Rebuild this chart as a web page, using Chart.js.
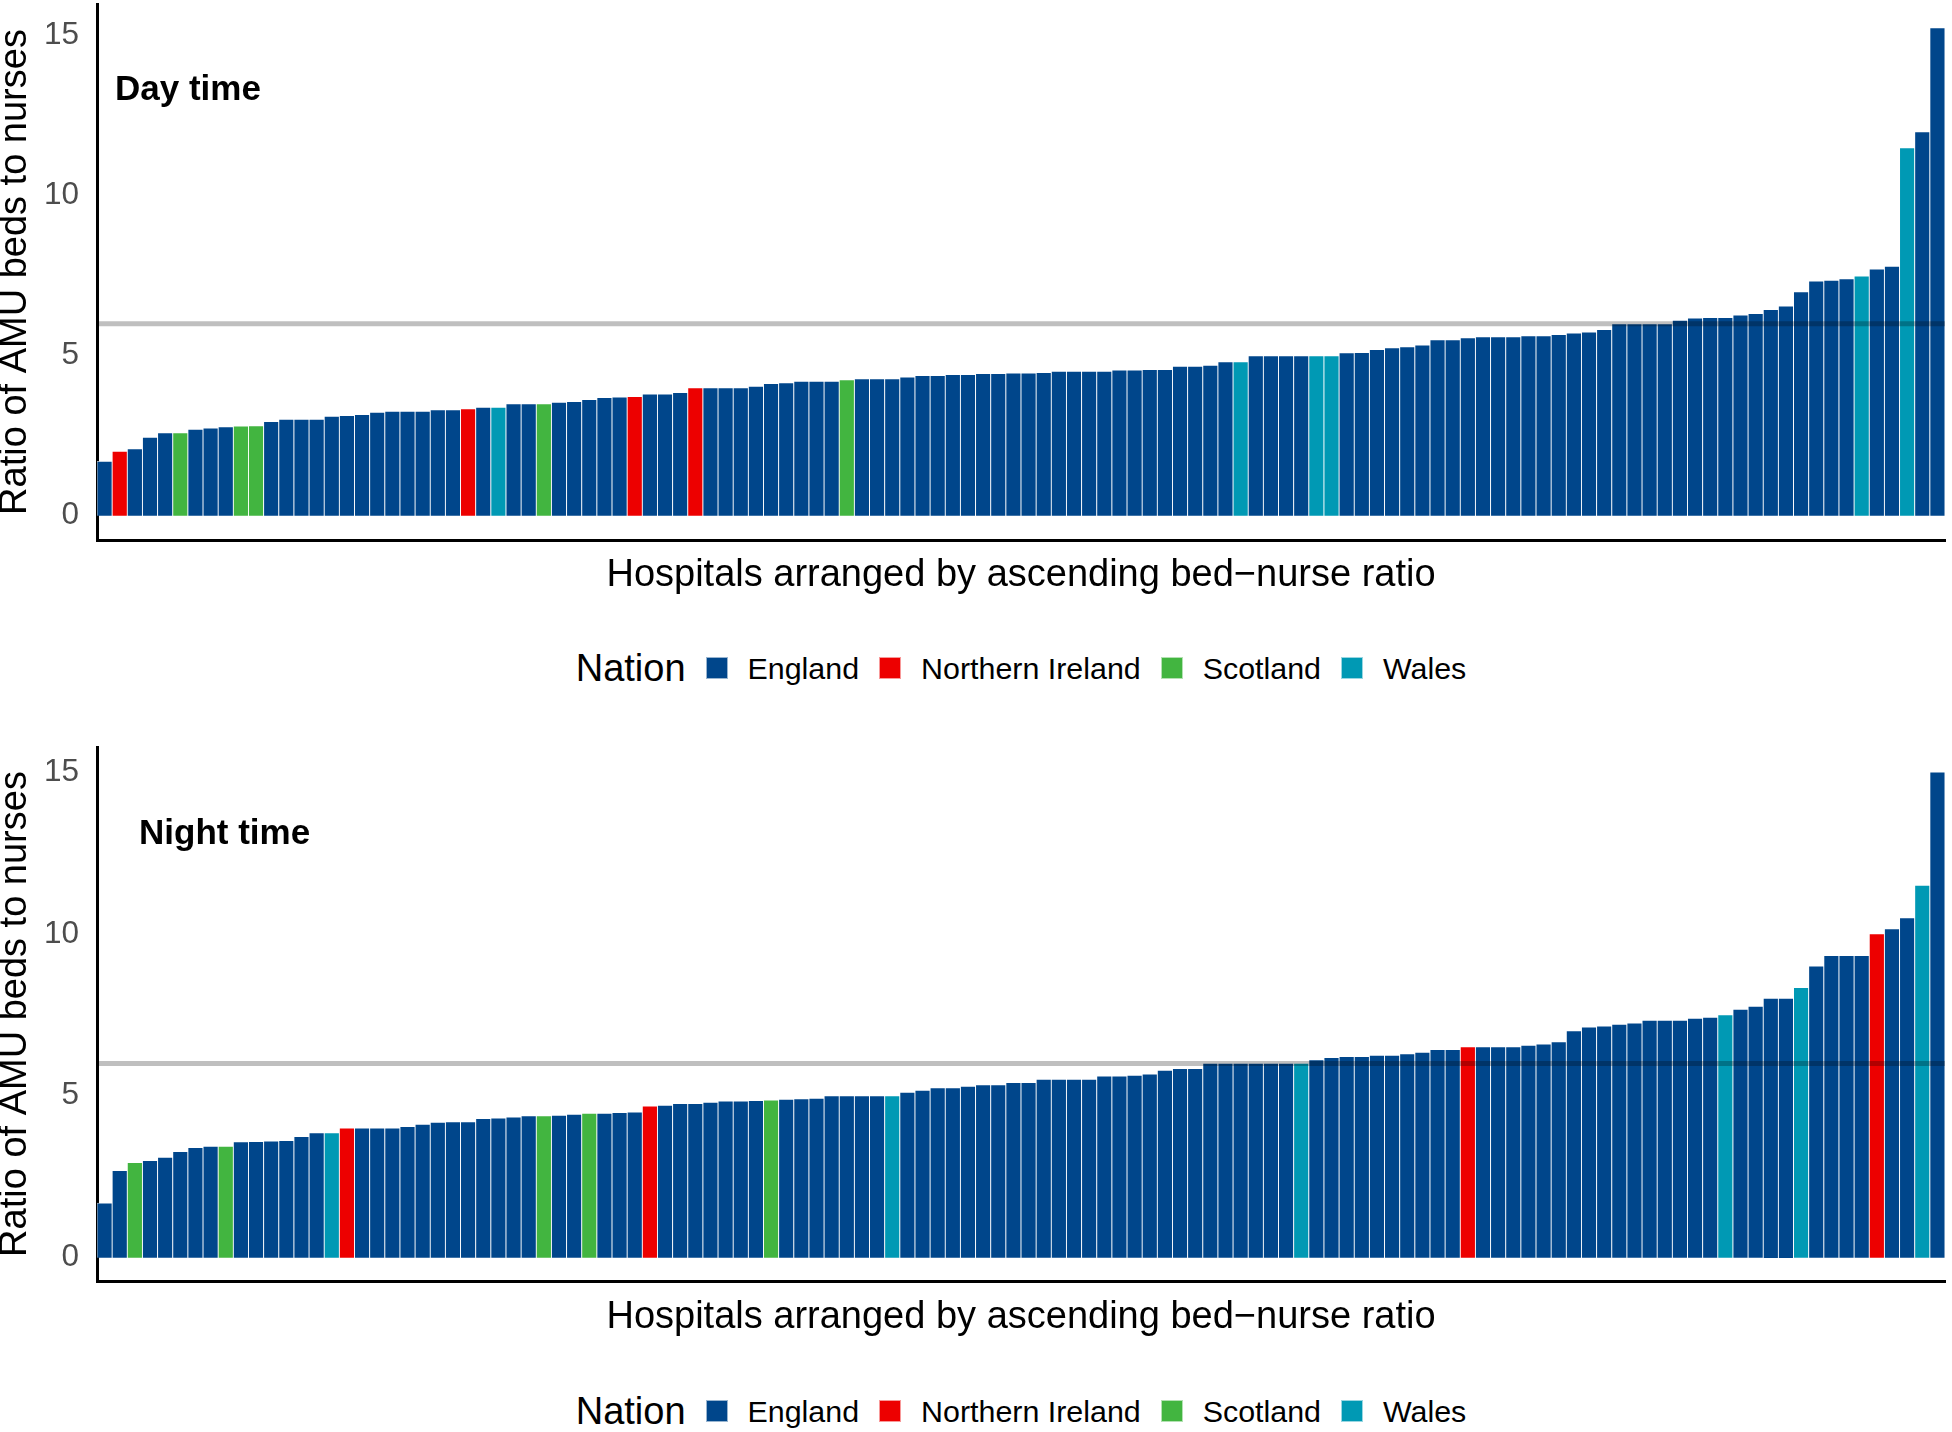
<!DOCTYPE html>
<html>
<head>
<meta charset="utf-8">
<script src="https://cdn.jsdelivr.net/npm/chart.js@4.4.0/dist/chart.umd.min.js"></script>
<style>
  body { margin: 0; background: #fff; width: 1952px; height: 1432px; position: relative; overflow: hidden;
         font-family: 'Liberation Sans', Arial, sans-serif; }
  canvas { position: absolute; left: 0; }
  .legend { position: absolute; left: 97px; width: 1848px; height: 44px; display: flex;
            justify-content: center; align-items: center; gap: 20px; color: #000; }
  .legend .ttl { font-size: 38px; }
  .legend .key { width: 22px; height: 22px; box-sizing: border-box; border: 1px solid rgba(255,255,255,0.6); }
  .legend .lab { font-size: 30.4px; }
</style>
</head>
<body>
<canvas id="dayChart" width="1952" height="598" style="top:0px"></canvas>
<div class="legend" id="dayLegend" style="top:646px"></div>
<canvas id="nightChart" width="1952" height="597" style="top:743px"></canvas>
<div class="legend" id="nightLegend" style="top:1389px"></div>
<script>
const nations = ['England', 'Northern Ireland', 'Scotland', 'Wales'];
const nationCodes = ['E', 'N', 'S', 'W'];
const nationColors = ['#00468B', '#ED0000', '#42B540', '#0099B4'];

const yTicks = [0, 5, 10, 15];
const refValue = 6;
const xTitle = 'Hospitals arranged by ascending bed\u2212nurse ratio';
const yTitle = 'Ratio of AMU beds to nurses';

// day time, hospitals sorted by ratio
const dayValues = [1.70, 2.01, 2.09, 2.45, 2.59, 2.59, 2.70, 2.74, 2.78, 2.80,
  2.81, 2.94, 3.01, 3.01, 3.01, 3.11, 3.13, 3.16, 3.23, 3.26,
  3.26, 3.26, 3.31, 3.31, 3.34, 3.39, 3.39, 3.50, 3.50, 3.50,
  3.54, 3.57, 3.63, 3.69, 3.71, 3.72, 3.80, 3.80, 3.85, 4.00,
  4.00, 4.00, 4.00, 4.04, 4.13, 4.15, 4.20, 4.20, 4.20, 4.25,
  4.28, 4.28, 4.28, 4.33, 4.38, 4.38, 4.41, 4.41, 4.44, 4.44,
  4.46, 4.46, 4.47, 4.51, 4.51, 4.51, 4.51, 4.55, 4.55, 4.57,
  4.57, 4.67, 4.67, 4.70, 4.81, 4.81, 5.00, 5.00, 5.00, 5.00,
  5.00, 5.00, 5.09, 5.10, 5.19, 5.25, 5.28, 5.33, 5.50, 5.50,
  5.56, 5.59, 5.59, 5.59, 5.62, 5.62, 5.66, 5.71, 5.74, 5.82,
  6.00, 6.00, 6.00, 6.00, 6.11, 6.18, 6.19, 6.19, 6.27, 6.32,
  6.44, 6.55, 7.00, 7.33, 7.36, 7.40, 7.49, 7.71, 7.79, 11.50,
  12.00, 15.25];
const dayNation = ('ENEEESEEES' + 'SEEEEEEEEE' + 'EEEENEWEES' + 'EEEEENEEEN' +
  'EEEEEEEEES' + 'EEEEEEEEEE' + 'EEEEEEEEEE' + 'EEEEEWEEEE' +
  'WWEEEEEEEE' + 'EEEEEEEEEE' + 'EEEEEEEEEE' + 'EEEEEEWEEW' + 'EE').split('');

// night time
const nightValues = [1.69, 2.69, 2.94, 3.00, 3.10, 3.28, 3.40, 3.44, 3.44, 3.58,
  3.59, 3.60, 3.62, 3.74, 3.86, 3.86, 4.00, 4.00, 4.00, 4.00,
  4.05, 4.12, 4.18, 4.20, 4.20, 4.30, 4.31, 4.34, 4.38, 4.38,
  4.40, 4.43, 4.46, 4.46, 4.48, 4.50, 4.68, 4.71, 4.76, 4.76,
  4.80, 4.84, 4.84, 4.85, 4.87, 4.89, 4.91, 4.92, 5.00, 5.00,
  5.00, 5.00, 5.00, 5.11, 5.17, 5.25, 5.25, 5.29, 5.34, 5.34,
  5.41, 5.41, 5.51, 5.51, 5.51, 5.51, 5.61, 5.61, 5.63, 5.67,
  5.79, 5.84, 5.84, 6.00, 6.00, 6.00, 6.00, 6.00, 6.00, 6.00,
  6.11, 6.18, 6.21, 6.21, 6.25, 6.25, 6.30, 6.34, 6.43, 6.43,
  6.51, 6.51, 6.51, 6.51, 6.56, 6.60, 6.67, 7.01, 7.12, 7.15,
  7.21, 7.25, 7.33, 7.33, 7.33, 7.39, 7.42, 7.50, 7.67, 7.76,
  8.01, 8.01, 8.34, 9.01, 9.33, 9.33, 9.33, 10.00, 10.16, 10.50,
  11.50, 15.00];
const nightNation = ('EESEEEEESE' + 'EEEEEWNEEE' + 'EEEEEEEEES' + 'EESEEENEEE' +
  'EEEESEEEEE' + 'EEWEEEEEEE' + 'EEEEEEEEEE' + 'EEEEEEEEEW' +
  'EEEEEEEEEE' + 'NEEEEEEEEE' + 'EEEEEEEWEE' + 'EEWEEEENEE' + 'WE').split('');

const font = "'Liberation Sans', Arial, sans-serif";

// grey band at the reference ratio, drawn over the bars
const refLinePlugin = {
    id: 'refLine',
    afterDatasetsDraw(chart) {
        const {ctx, chartArea, scales} = chart;
        const y = scales.y.getPixelForValue(refValue);
        ctx.save();
        ctx.strokeStyle = 'rgba(0,0,0,0.25)';
        ctx.lineWidth = 5;
        ctx.beginPath();
        ctx.moveTo(chartArea.left, y);
        ctx.lineTo(chartArea.right, y);
        ctx.stroke();
        ctx.restore();
    }
};

const panelLabelPlugin = {
    id: 'panelLabel',
    afterDraw(chart, args, opts) {
        const ctx = chart.ctx;
        ctx.save();
        ctx.font = 'bold 35px ' + font;
        ctx.fillStyle = '#000';
        ctx.textBaseline = 'alphabetic';
        ctx.fillText(opts.text, chart.chartArea.left + opts.dx, opts.y);
        ctx.restore();
    }
};

function makeChart(id, values, codes, label, dx, labelY, yMin, yMax, titlePad) {
    const ctx = document.getElementById(id).getContext('2d');
    return new Chart(ctx, {
        type: 'bar',
        data: {
            labels: values.map((v, i) => 'Hospital ' + (i + 1)),
            datasets: [{
                label: label,
                data: values,
                backgroundColor: codes.map(c => nationColors[nationCodes.indexOf(c)]),
                borderColor: 'rgba(255,255,255,0.75)',
                borderWidth: 0.8,
                barPercentage: 1,
                categoryPercentage: 1
            }]
        },
        options: {
            responsive: false,
            animation: false,
            layout: { padding: { top: 4, right: 7, left: 0, bottom: 0 } },
            plugins: {
                legend: { display: false },
                tooltip: { enabled: false },
                panelLabel: { text: label, dx: dx, y: labelY }
            },
            scales: {
                x: {
                    grid: { display: false, drawTicks: false },
                    ticks: { display: false },
                    border: { display: true, color: '#000', width: 3 },
                    title: {
                        display: true, text: xTitle, color: '#000',
                        font: { family: font, size: 38, lineHeight: 1.2 },
                        padding: { top: titlePad, bottom: 0 }
                    }
                },
                y: {
                    min: yMin,
                    max: yMax,
                    grid: { display: false, drawTicks: false },
                    border: { display: true, color: '#000', width: 3 },
                    afterBuildTicks: s => { s.ticks = yTicks.map(v => ({ value: v })); },
                    afterFit: s => { s.width = 97; s.paddingTop = 0; s.paddingBottom = 0; },
                    ticks: { color: '#4D4D4D', font: { family: font, size: 31.5 }, padding: 18 },
                    title: {
                        display: true, text: yTitle, color: '#000',
                        font: { family: font, size: 38, lineHeight: 0.8 },
                        padding: 0
                    }
                }
            }
        },
        plugins: [refLinePlugin, panelLabelPlugin]
    });
}

function makeLegend(id) {
    const box = document.getElementById(id);
    const ttl = document.createElement('span');
    ttl.className = 'ttl';
    ttl.textContent = 'Nation';
    box.appendChild(ttl);
    nations.forEach((n, i) => {
        const key = document.createElement('span');
        key.className = 'key';
        key.style.background = nationColors[i];
        box.appendChild(key);
        const lab = document.createElement('span');
        lab.className = 'lab';
        lab.textContent = n;
        box.appendChild(lab);
    });
}

document.addEventListener('DOMContentLoaded', function () {
    makeChart('dayChart', dayValues, dayNation, 'Day time', 18, 100, -0.76, 15.99, 12.4);
    makeChart('nightChart', nightValues, nightNation, 'Night time', 42, 101, -0.72, 15.77, 13.4);
    makeLegend('dayLegend');
    makeLegend('nightLegend');
});
</script>
</body>
</html>
